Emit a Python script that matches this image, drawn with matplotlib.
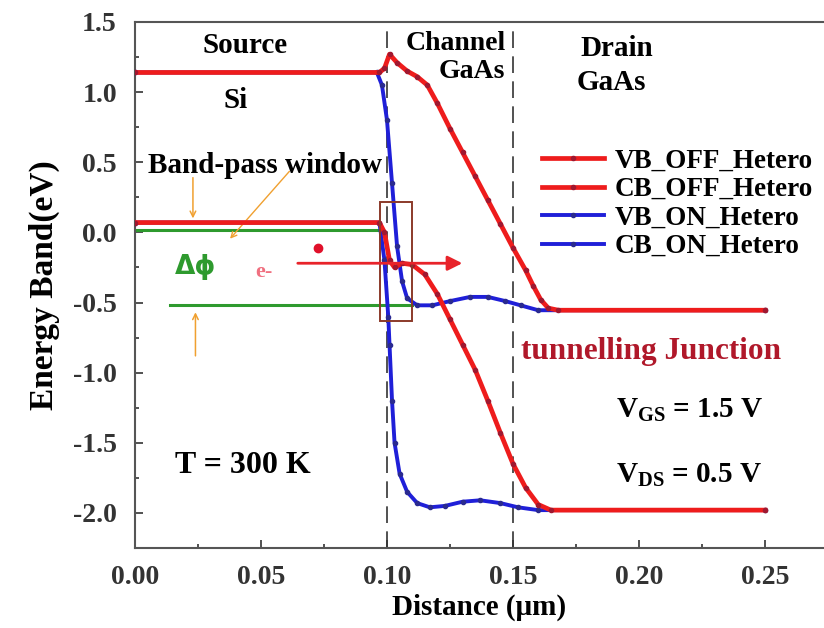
import numpy as np
import matplotlib
matplotlib.use("Agg")
import matplotlib.pyplot as plt
from matplotlib.patches import Rectangle
from matplotlib.ticker import MultipleLocator

plt.rcParams['font.family'] = ['Liberation Serif', 'DejaVu Serif']
plt.rcParams['font.weight'] = 'bold'
plt.rcParams['axes.labelweight'] = 'bold'
plt.rcParams['mathtext.fontset'] = 'custom'
plt.rcParams['mathtext.rm'] = 'Liberation Serif:bold'
plt.rcParams['mathtext.bf'] = 'Liberation Serif:bold'

# band edges (distance in um, energy in eV)
cb_off_x = [0.0, 0.097, 0.099, 0.101, 0.104, 0.108, 0.112, 0.116, 0.120, 0.125,
            0.130, 0.135, 0.140, 0.145, 0.150, 0.155, 0.158, 0.161, 0.164, 0.168, 0.25]
cb_off_e = [1.14, 1.14, 1.17, 1.27, 1.21, 1.15, 1.11, 1.05, 0.92, 0.74,
            0.57, 0.40, 0.23, 0.06, -0.11, -0.27, -0.38, -0.48, -0.54, -0.555, -0.555]

vb_off_x = [0.0, 0.097, 0.099, 0.101, 0.103, 0.106, 0.110, 0.115, 0.120, 0.125,
            0.130, 0.135, 0.140, 0.145, 0.150, 0.155, 0.160, 0.165, 0.25]
vb_off_e = [0.07, 0.07, 0.0, -0.20, -0.25, -0.22, -0.23, -0.30, -0.44, -0.62,
            -0.80, -0.98, -1.20, -1.43, -1.65, -1.82, -1.94, -1.98, -1.98]

cb_on_x = [0.0, 0.096, 0.098, 0.100, 0.102, 0.104, 0.106, 0.108, 0.112, 0.118,
           0.125, 0.133, 0.140, 0.147, 0.153, 0.160, 0.25]
cb_on_e = [1.14, 1.14, 1.05, 0.80, 0.35, -0.10, -0.35, -0.47, -0.52, -0.52,
           -0.49, -0.46, -0.46, -0.49, -0.52, -0.555, -0.555]

vb_on_x = [0.0, 0.097, 0.099, 0.1005, 0.101, 0.102, 0.103, 0.105, 0.108, 0.112,
           0.117, 0.123, 0.130, 0.137, 0.145, 0.152, 0.160, 0.25]
vb_on_e = [0.07, 0.07, -0.20, -0.60, -0.80, -1.20, -1.50, -1.72, -1.85, -1.93,
           -1.96, -1.95, -1.92, -1.91, -1.93, -1.96, -1.98, -1.98]

red = '#ee1c1c'
blue = '#1f1fd8'

fig = plt.figure(figsize=(8.24, 6.28), dpi=100)
ax = fig.add_axes([0.1638, 0.1274, 0.8362, 0.8376])

ax.plot(cb_on_x, cb_on_e, '-', color=blue, lw=2.8, marker='o', ms=3,
        mfc='#2a2a90', mec='#2a2a90', label='CB_ON_Hetero', zorder=3)
ax.plot(vb_on_x, vb_on_e, '-', color=blue, lw=2.8, marker='o', ms=3,
        mfc='#2a2a90', mec='#2a2a90', label='VB_ON_Hetero', zorder=3)
ax.plot(vb_off_x, vb_off_e, '-', color=red, lw=3.4, marker='o', ms=3,
        mfc='#a01830', mec='#a01830', label='VB_OFF_Hetero', zorder=4)
ax.plot(cb_off_x, cb_off_e, '-', color=red, lw=3.4, marker='o', ms=3,
        mfc='#a01830', mec='#a01830', label='CB_OFF_Hetero', zorder=4)

# region borders
for xb in (0.10, 0.15):
    ax.axvline(xb, color='#333333', lw=1.2, dashes=(10, 5), zorder=2)

# band-pass window markers
ax.plot([0.0, 0.096], [0.02, 0.02], color='#2e9a2e', lw=2.2, zorder=2)
ax.plot([0.014, 0.110], [-0.52, -0.52], color='#2e9a2e', lw=2.2, zorder=2)
ax.add_patch(Rectangle((0.0972, -0.63), 0.0128, 0.85, fill=False,
                       ec='#8b3a2a', lw=1.4, zorder=5))

orange = '#f0a030'
ax.annotate('', xy=(0.023, 0.08), xytext=(0.023, 0.41),
            arrowprops=dict(arrowstyle='->', color=orange, lw=1.1))
ax.annotate('', xy=(0.024, -0.55), xytext=(0.024, -0.90),
            arrowprops=dict(arrowstyle='->', color=orange, lw=1.1))
ax.annotate('', xy=(0.037, -0.06), xytext=(0.062, 0.45),
            arrowprops=dict(arrowstyle='->', color=orange, lw=1.0))

# electron and its path
ax.plot([0.0726], [-0.11], 'o', color='#e0102a', ms=6, zorder=6)
ax.annotate('', xy=(0.131, -0.22), xytext=(0.0635, -0.22),
            arrowprops=dict(arrowstyle='-|>', color='#e8232a', lw=2.0,
                            mutation_scale=22), zorder=6)

fs = 21
ax.text(0.0437, 1.33, 'Source', ha='center', va='center', fontsize=fs)
ax.text(0.040, 0.94, 'Si', ha='center', va='center', fontsize=fs)
ax.text(0.147, 1.35, 'Channel', ha='right', va='center', fontsize=20)
ax.text(0.147, 1.15, 'GaAs', ha='right', va='center', fontsize=20)
ax.text(0.191, 1.31, 'Drain', ha='center', va='center', fontsize=fs)
ax.text(0.189, 1.07, 'GaAs', ha='center', va='center', fontsize=fs)
ax.text(0.005, 0.48, 'Band-pass window', ha='left', va='center', fontsize=fs)
ax.text(0.024, -0.25, 'Δϕ', ha='center', va='center', fontsize=19,
        color='#2e9a2e', family=['DejaVu Sans'])
ax.text(0.051, -0.28, 'e-', ha='center', va='center', fontsize=16,
        color='#f07080')
ax.text(0.153, -0.85, 'tunnelling Junction', ha='left', va='center',
        fontsize=22.5, color='#b0182a')
ax.text(0.191, -1.27, r'V$_{\mathbf{GS}}$ = 1.5 V', ha='left', va='center', fontsize=21)
ax.text(0.191, -1.73, r'V$_{\mathbf{DS}}$ = 0.5 V', ha='left', va='center', fontsize=21)
ax.text(0.016, -1.66, 'T = 300 K', ha='left', va='center', fontsize=23)

h, l = ax.get_legend_handles_labels()
order = [2, 3, 1, 0]
ax.legend([h[i] for i in order], [l[i] for i in order], loc='upper left',
          bbox_to_anchor=(0.575, 0.78), frameon=False, fontsize=19.5,
          handlelength=2.3, handletextpad=0.4, labelspacing=0.13,
          borderaxespad=0)

ax.set_xlim(0.0, 0.2734)
ax.set_ylim(-2.25, 1.5)
ax.xaxis.set_minor_locator(MultipleLocator(0.025))
ax.yaxis.set_minor_locator(MultipleLocator(0.25))
ax.set_xticks([0.0, 0.05, 0.10, 0.15, 0.20, 0.25])
ax.set_xticklabels(['0.00', '0.05', '0.10', '0.15', '0.20', '0.25'])
ax.set_yticks([1.5, 1.0, 0.5, 0.0, -0.5, -1.0, -1.5, -2.0])
ax.set_yticklabels(['1.5', '1.0', '0.5', '0.0', '-0.5', '-1.0', '-1.5', '-2.0'])
ax.tick_params(which='both', direction='in', labelsize=20, colors='#333333',
               width=1.2)
ax.tick_params(which='major', length=6)
ax.tick_params(axis='y', which='major', pad=13)
ax.tick_params(axis='x', which='major', pad=12)
ax.tick_params(which='minor', length=3)
ax.tick_params(axis='x', which='both', top=False)
for s in ax.spines.values():
    s.set_color('#555555')
    s.set_linewidth(1.5)
ax.spines['right'].set_visible(False)

ax.set_xlabel('Distance (μm)', fontsize=21, labelpad=3)
ax.set_ylabel('Energy Band(eV)', fontsize=24, labelpad=9)

fig.savefig('out.png', dpi=100)
